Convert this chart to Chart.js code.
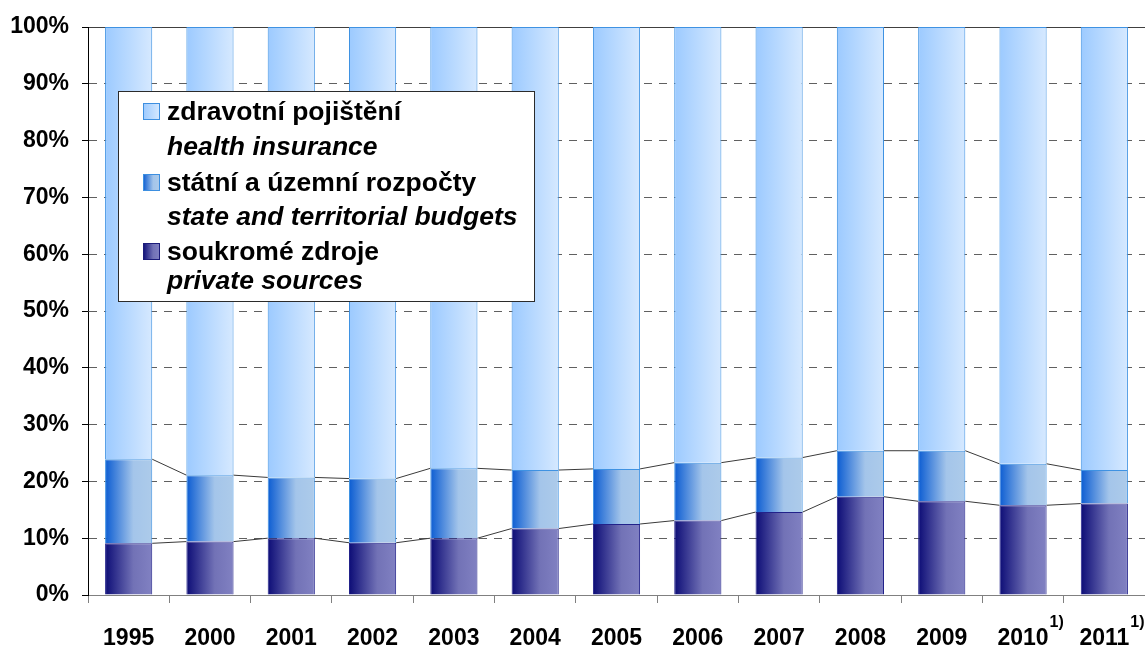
<!DOCTYPE html>
<html lang="cs">
<head>
<meta charset="UTF-8">
<title>Zdroje financování zdravotní péče</title>
<script src="https://cdn.jsdelivr.net/npm/chart.js"></script>
<style>
    html, body { margin: 0; padding: 0; background: #fff; }
    #wrap { width: 1145px; height: 650px; }
</style>
</head>
<body>
<div id="wrap"><canvas id="chart" width="1145" height="650"></canvas></div>
<script>
// roky a hodnoty (podíl v %)
const years = ['1995', '2000', '2001', '2002', '2003', '2004', '2005', '2006', '2007', '2008', '2009', '2010', '2011'];
const footnoteYears = ['2010', '2011'];
const privateSources = [9.1, 9.4, 10.0, 9.2, 10.0, 11.7, 12.5, 13.1, 14.6, 17.3, 16.5, 15.8, 16.1];
const budgets = [14.8, 11.7, 10.7, 11.3, 12.3, 10.3, 9.7, 10.2, 9.6, 8.1, 8.9, 7.3, 5.9];
const insurance = [76.1, 78.9, 79.3, 79.5, 77.7, 78.0, 77.8, 76.7, 75.8, 74.6, 74.6, 76.9, 78.0];
const legendCz = ['zdravotní pojištění', 'státní a územní rozpočty', 'soukromé zdroje'];
const legendEn = ['health insurance', 'state and territorial budgets', 'private sources'];

const FONT = '"Liberation Sans", Arial, sans-serif';
const BAR_PCT = 0.58;

const insStops = [[0, '#9ccaff'], [1, '#d6e9ff']];
const budStops = [[0, '#0b5cd2'], [0.6, '#a4c5ea'], [1, '#adcbea']];
const privStops = [[0, '#0c0c76'], [0.6, '#7272b6'], [1, '#8181c2']];

function makeGradient(c, x0, x1, stops) {
    const g = c.createLinearGradient(x0, 0, x1, 0);
    stops.forEach(s => g.addColorStop(s[0], s[1]));
    return g;
}

// gradient pro kazdy sloupec zvlast
function barGradient(stops) {
    return function (ctx) {
        const chart = ctx.chart;
        const xs = chart.scales && chart.scales.x;
        if (!xs || ctx.dataIndex === undefined) return stops[0][1];
        const cx = xs.getPixelForValue(ctx.dataIndex);
        const w = xs.width / years.length * BAR_PCT;
        if (!isFinite(cx) || !isFinite(w) || w <= 0) return stops[0][1];
        return makeGradient(chart.ctx, cx - w / 2, cx + w / 2, stops);
    };
}

// spojnice mezi sloupci
const seriesLines = {
    id: 'seriesLines',
    afterDatasetsDraw(chart) {
        const c = chart.ctx;
        c.save();
        c.strokeStyle = '#3a3a3a';
        c.lineWidth = 1;
        [0, 1].forEach(di => {
            const bars = chart.getDatasetMeta(di).data;
            for (let i = 0; i < bars.length - 1; i++) {
                const a = bars[i], b = bars[i + 1];
                c.beginPath();
                c.moveTo(a.x + a.width / 2, a.y);
                c.lineTo(b.x - b.width / 2, b.y);
                c.stroke();
            }
        });
        c.restore();
    }
};

// legenda a poznamky
const extras = {
    id: 'extras',
    afterDraw(chart) {
        const c = chart.ctx;
        const xs = chart.scales.x;
        c.save();

        // horni indexy 1)
        footnoteYears.forEach(y => {
            const i = years.indexOf(y);
            const x = xs.getPixelForValue(i);
            c.font = 'bold 23px ' + FONT;
            const w = c.measureText(y).width;
            c.font = 'bold 16px ' + FONT;
            c.fillStyle = '#000';
            c.textBaseline = 'alphabetic';
            c.textAlign = 'left';
            c.fillText('1)', x + w / 2 + 1, 627);
        });

        // ramecek legendy
        c.fillStyle = '#fff';
        c.fillRect(118.5, 91.5, 416, 210);
        c.strokeStyle = '#2b2b2b';
        c.lineWidth = 1;
        c.strokeRect(118.5, 91.5, 416, 210);

        const swatches = [
            { y: 103, stops: insStops, border: '#3d8fe0' },
            { y: 174, stops: budStops, border: '#3d8fe0' },
            { y: 243, stops: privStops, border: '#1c1c7a' }
        ];
        const baseCz = [120, 191, 260];
        const baseEn = [155, 225, 289];
        swatches.forEach((s, k) => {
            c.fillStyle = makeGradient(c, 143, 160, s.stops);
            c.fillRect(143.5, s.y + 0.5, 16, 16);
            c.strokeStyle = s.border;
            c.strokeRect(143.5, s.y + 0.5, 16, 16);

            c.fillStyle = '#000';
            c.textAlign = 'left';
            c.textBaseline = 'alphabetic';
            c.font = 'bold 26.5px ' + FONT;
            c.fillText(legendCz[k], 167, baseCz[k]);
            c.font = 'italic bold 26.5px ' + FONT;
            c.fillText(legendEn[k], 167, baseEn[k]);
        });
        c.restore();
    }
};

const chart = new Chart(document.getElementById('chart'), {
    type: 'bar',
    data: {
        labels: years,
        datasets: [
            { label: 'soukromé zdroje', data: privateSources, backgroundColor: barGradient(privStops), borderColor: '#22228a', borderWidth: 1 },
            { label: 'státní a územní rozpočty', data: budgets, backgroundColor: barGradient(budStops), borderColor: '#3f92e2', borderWidth: 1 },
            { label: 'zdravotní pojištění', data: insurance, backgroundColor: barGradient(insStops), borderColor: '#3f92e2', borderWidth: 1 }
        ]
    },
    options: {
        responsive: false,
        animation: false,
        devicePixelRatio: 1,
        categoryPercentage: 1,
        barPercentage: BAR_PCT,
        layout: { padding: { top: 27, left: 0, right: 0, bottom: 0 } },
        plugins: { legend: { display: false }, tooltip: { enabled: false } },
        scales: {
            x: {
                stacked: true,
                grid: { drawOnChartArea: false, drawTicks: true, tickLength: 8, tickColor: '#808080', offset: true },
                border: { color: '#808080', width: 1 },
                ticks: { color: '#000', font: { family: FONT, size: 23, weight: 'bold' }, padding: 22, maxRotation: 0, autoSkip: false },
                afterFit(s) { s.height = 55; s.paddingLeft = 0; s.paddingRight = 0; }
            },
            y: {
                stacked: true,
                min: 0,
                max: 100,
                grid: {
                    color: ctx => (ctx.tick && ctx.tick.value === 100) ? '#404040' : (ctx.tick && ctx.tick.value === 0 ? '#808080' : '#606060'),
                    tickColor: '#000',
                    tickLength: 6
                },
                border: {
                    color: '#000',
                    width: 1,
                    dash: ctx => (ctx.tick && ctx.tick.value > 0 && ctx.tick.value < 100) ? [8, 7] : []
                },
                ticks: {
                    stepSize: 10,
                    color: '#000',
                    padding: 13,
                    font: { family: FONT, size: 23, weight: 'bold' },
                    callback: v => v + '%'
                },
                afterFit(s) { s.width = 88; }
            }
        }
    },
    plugins: [seriesLines, extras]
});
chart.update();
</script>
</body>
</html>
